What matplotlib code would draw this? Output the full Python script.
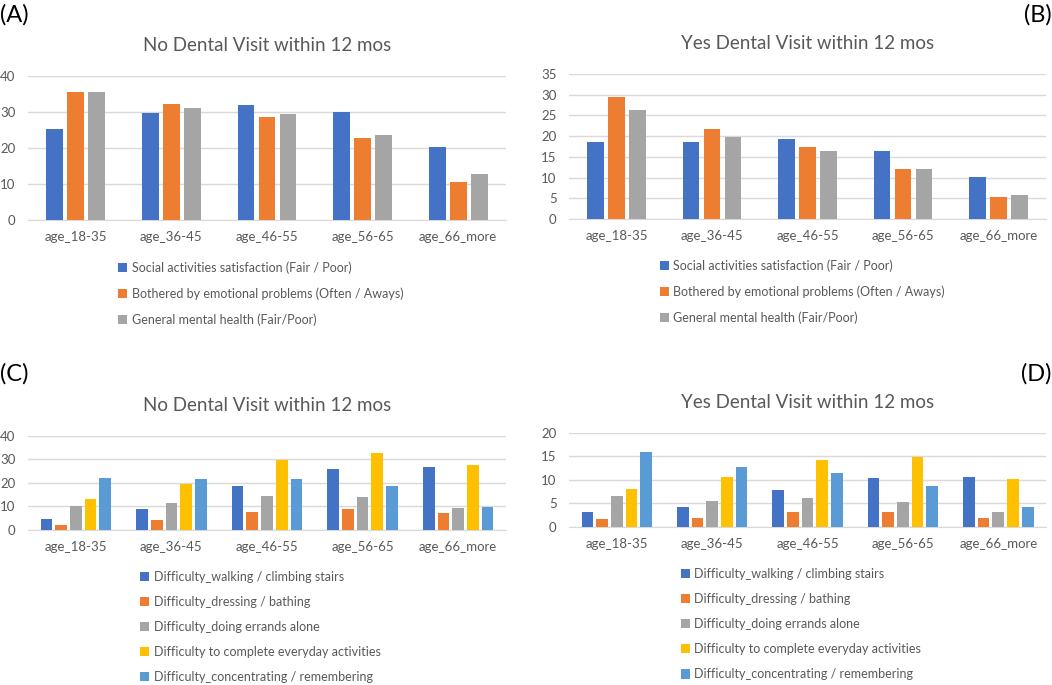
import matplotlib
matplotlib.use("Agg")
import matplotlib.pyplot as plt
import numpy as np

plt.rcParams['font.family'] = ['Lato', 'DejaVu Sans']

ages = ['age_18-35', 'age_36-45', 'age_46-55', 'age_56-65', 'age_66_more']

mental_labels = ['Social activities satisfaction (Fair / Poor)',
                 'Bothered by emotional problems (Often / Aways)',
                 'General mental health (Fair/Poor)']
no_social = [25.4, 29.8, 32.0, 30.0, 20.2]
no_emotional = [35.7, 32.1, 28.6, 22.7, 10.6]
no_general = [35.7, 31.1, 29.5, 23.7, 12.9]
yes_social = [18.6, 18.7, 19.2, 16.4, 10.1]
yes_emotional = [29.5, 21.7, 17.4, 12.0, 5.2]
yes_general = [26.3, 19.8, 16.5, 12.1, 5.7]

diff_labels = ['Difficulty_walking / climbing stairs',
               'Difficulty_dressing / bathing',
               'Difficulty_doing errands alone',
               'Difficulty to complete everyday activities',
               'Difficulty_concentrating / remembering']
no_walking = [4.8, 9.1, 18.9, 26.1, 26.8]
no_dressing = [2.1, 4.1, 7.7, 9.1, 7.1]
no_errands = [10.1, 11.3, 14.6, 14.0, 9.4]
no_everyday = [13.0, 19.7, 29.8, 32.9, 27.7]
no_concentr = [22.3, 21.8, 21.6, 18.6, 9.9]
yes_walking = [3.1, 4.2, 7.8, 10.5, 10.7]
yes_dressing = [1.6, 1.9, 3.2, 3.2, 2.0]
yes_errands = [6.6, 5.6, 6.2, 5.3, 3.1]
yes_everyday = [8.1, 10.6, 14.2, 14.8, 10.3]
yes_concentr = [15.9, 12.8, 11.5, 8.8, 4.2]

colors = ['#4472C4', '#ED7D31', '#A5A5A5', '#FFC000', '#5B9BD5']
txt = '#595959'

fig = plt.figure(figsize=(10.52, 6.85), dpi=100)


def panel(rect, series, labels, ymax, ystep, pitch, width, title, leg_xy):
    ax = fig.add_axes(rect)
    x = np.arange(len(ages))
    n = len(series)
    for i, vals in enumerate(series):
        off = (i - (n - 1) / 2) * pitch
        ax.bar(x + off, vals, width, color=colors[i], label=labels[i], zorder=3)
    ax.set_xlim(-0.5, len(ages) - 0.5)
    ax.set_ylim(0, ymax)
    ax.set_yticks(np.arange(0, ymax + 0.1, ystep))
    ax.set_xticks(x)
    ax.set_xticklabels(ages)
    ax.tick_params(axis='both', length=0, colors=txt, labelsize=9.5)
    ax.tick_params(axis='x', pad=8)
    ax.tick_params(axis='y', pad=9)
    ax.grid(axis='y', color='#D9D9D9', lw=1, zorder=0)
    for s in ['top', 'right', 'left']:
        ax.spines[s].set_visible(False)
    ax.spines['bottom'].set_color('#D9D9D9')
    ax.set_title(title, color=txt, fontsize=13.5, pad=18)
    ax.legend(loc='upper left', bbox_to_anchor=leg_xy, bbox_transform=fig.transFigure,
              frameon=False, fontsize=9, labelcolor=txt, handlelength=0.75,
              handleheight=0.75, handletextpad=0.35, labelspacing=1.05,
              borderpad=0, borderaxespad=0)
    return ax


panel([0.0266, 0.6788, 0.4544, 0.2102], [no_social, no_emotional, no_general],
      mental_labels, 40, 10, 0.22, 0.175, 'No Dental Visit within 12 mos', (0.112, 0.618))
panel([0.5409, 0.6803, 0.4534, 0.2117], [yes_social, yes_emotional, yes_general],
      mental_labels, 35, 5, 0.22, 0.175, 'Yes Dental Visit within 12 mos', (0.627, 0.621))
panel([0.0266, 0.2263, 0.4544, 0.1372],
      [no_walking, no_dressing, no_errands, no_everyday, no_concentr],
      diff_labels, 40, 10, 0.154, 0.122, 'No Dental Visit within 12 mos', (0.133, 0.167))
panel([0.5409, 0.2307, 0.4534, 0.1372],
      [yes_walking, yes_dressing, yes_errands, yes_everyday, yes_concentr],
      diff_labels, 20, 5, 0.154, 0.122, 'Yes Dental Visit within 12 mos', (0.647, 0.171))

fig.text(0.0, 0.979, '(A)', fontsize=17, va='center', ha='left')
fig.text(1.0, 0.979, '(B)', fontsize=17, va='center', ha='right')
fig.text(0.0, 0.455, '(C)', fontsize=17, va='center', ha='left')
fig.text(1.0, 0.455, '(D)', fontsize=17, va='center', ha='right')

fig.savefig('out.png', dpi=100)
